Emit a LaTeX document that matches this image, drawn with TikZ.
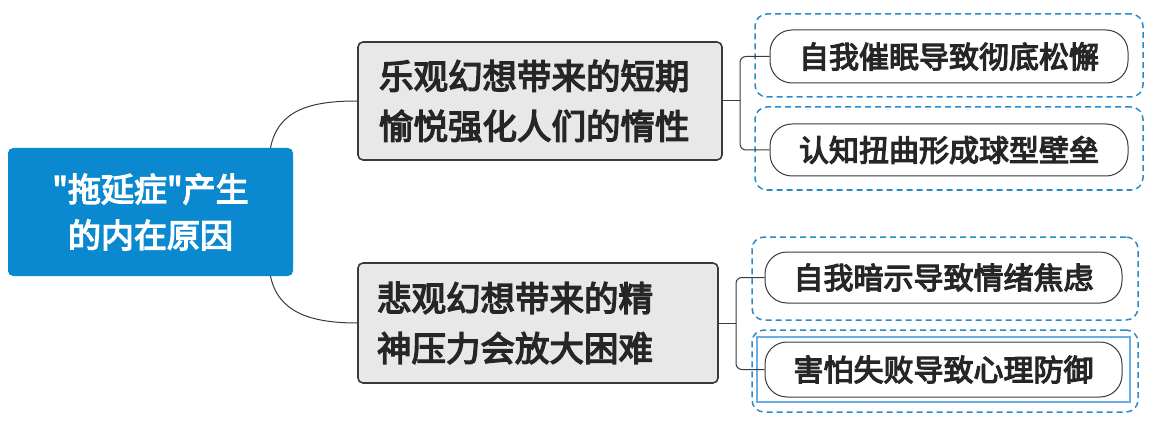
\documentclass[tikz,border=0pt]{standalone}
\usepackage{fontspec}
\newfontfamily\cjk{Noto Sans CJK SC}[FakeBold=4]
\definecolor{rootblue}{HTML}{0A88D0}
\definecolor{dashblue}{HTML}{2A8BC8}
\definecolor{midgray}{HTML}{E8E8E8}
\definecolor{lineg}{HTML}{3A3A3A}
\tikzset{
  rootbox/.style={draw=none,fill=rootblue,rounded corners=5pt,text=white,font=\cjk\fontsize{33}{46}\selectfont,align=center},
  midbox/.style={draw=lineg,line width=1.6pt,fill=midgray,rounded corners=5pt,font=\cjk\fontsize{34.5}{50}\selectfont,align=left,text=black!85,text width=322pt},
  outerbox/.style={draw=dashblue,line width=1.5pt,rounded corners=12pt,dash pattern=on 6pt off 4pt},
  pill/.style={draw=lineg,line width=1pt,rounded corners=22pt,fill=white,font=\cjk\fontsize{30}{32}\selectfont,text=black!85},
  conn/.style={draw=lineg,line width=1pt}
}
\begin{document}
\begin{tikzpicture}[x=1pt,y=-1pt]
\useasboundingbox (0,0) rectangle (1149,425);
\node[rootbox,minimum width=285pt,minimum height=128pt] (root) at (150.5,212) {"拖延症"产生\\的内在原因};
\node[midbox,minimum width=364pt,minimum height=118pt] (m1) at (540,101) {乐观幻想带来的短期\\愉悦强化人们的惰性};
\node[midbox,minimum width=360pt,minimum height=120pt] (m2) at (538,323) {悲观幻想带来的精\\神压力会放大困难};
\node[outerbox,minimum width=388pt,minimum height=83pt] (o1) at (949,55.5) {};
\node[outerbox,minimum width=388pt,minimum height=83pt] (o2) at (949,148.5) {};
\node[outerbox,minimum width=386pt,minimum height=83pt] (o3) at (945,278.5) {};
\node[outerbox,minimum width=386pt,minimum height=82pt] (o4) at (945,371) {};
\draw[cyan!70!blue!60,line width=1.5pt] (757,337) rectangle (1130,402);
\node[pill,minimum width=358pt,minimum height=53pt] (l1) at (949,56.5) {自我催眠导致彻底松懈};
\node[pill,minimum width=358pt,minimum height=52pt] (l2) at (949,150) {认知扭曲形成球型壁垒};
\node[pill,minimum width=357pt,minimum height=51pt] (l3) at (943.5,277.5) {自我暗示导致情绪焦虑};
\node[pill,minimum width=357pt,minimum height=55pt] (l4) at (943.5,369.5) {害怕失败导致心理防御};
\draw[conn] ([xshift=120pt]root.north) .. controls (278,110) and (310,101) .. (m1.west);
\draw[conn] ([xshift=120pt]root.south) .. controls (278,312) and (310,323) .. (m2.west);
\coordinate (j1) at (740,101);
\coordinate (j2) at (736,323);
\draw[conn] (m1.east) -- (j1);
\draw[conn,rounded corners=6pt] (j1) |- (l1.west);
\draw[conn,rounded corners=6pt] (j1) |- (l2.west);
\draw[conn] (m2.east) -- (j2);
\draw[conn,rounded corners=6pt] (j2) |- (l3.west);
\draw[conn,rounded corners=6pt] (j2) |- (l4.west);
\end{tikzpicture}
\end{document}
